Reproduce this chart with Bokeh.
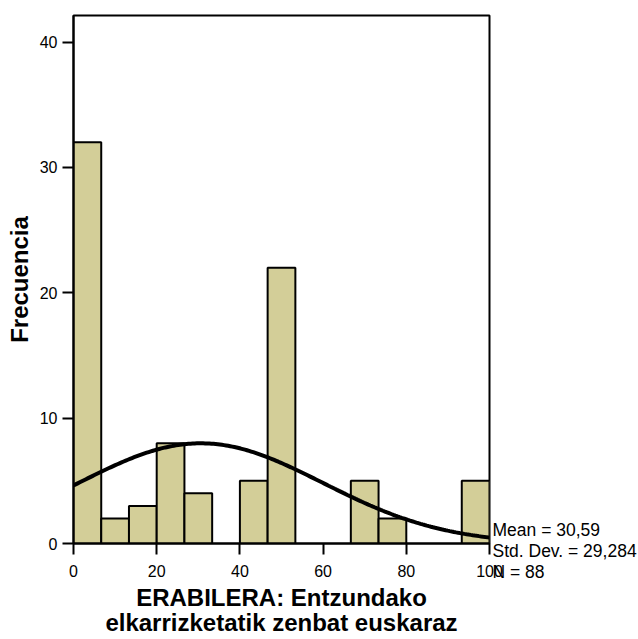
import numpy as np
from bokeh.plotting import figure
from bokeh.models import Label, FixedTicker, Range1d
from bokeh.embed import file_html
from bokeh.resources import INLINE

bin_width = 100 / 15
bin_lefts = [i * bin_width for i in range(15)]
counts = [32, 2, 3, 8, 4, 0, 5, 22, 0, 0, 5, 2, 0, 0, 5]
mean_val = 30.59
std_val = 29.284
n_val = 88
x_ticks = [0, 20, 40, 60, 80, 100]
y_ticks = [0, 10, 20, 30, 40]
stats = ["Mean = 30,59", "Std. Dev. = 29,284", "N = 88"]

p = figure(width=638, height=639, output_backend="svg", toolbar_location=None,
           x_range=Range1d(0, 100), y_range=Range1d(0, 42.12),
           min_border_left=73, min_border_right=149, min_border_top=15, min_border_bottom=93)
p.grid.visible = False
p.outline_line_color = "black"
p.outline_line_width = 2

lefts = [b for b, c in zip(bin_lefts, counts) if c > 0]
rights = [b + bin_width for b, c in zip(bin_lefts, counts) if c > 0]
tops = [c for c in counts if c > 0]
p.quad(left=lefts, right=rights, bottom=0, top=tops, fill_color="#d3ce98",
       line_color="black", line_width=2)

xs = np.linspace(0, 100, 200)
ys = n_val * bin_width / (std_val * np.sqrt(2 * np.pi)) * np.exp(-0.5 * ((xs - mean_val) / std_val) ** 2)
p.line(xs, ys, line_color="black", line_width=4)

for ax in (p.xaxis[0], p.yaxis[0]):
    ax.axis_line_width = 2
    ax.major_tick_line_width = 2
    ax.minor_tick_line_color = None
    ax.major_tick_in = 0
    ax.major_tick_out = 11
    ax.major_label_text_font = "Liberation Sans"
    ax.major_label_text_font_size = "16px"
    ax.major_label_text_color = "black"
    ax.axis_label_text_font = "Liberation Sans"
    ax.axis_label_text_font_style = "bold"
    ax.axis_label_text_font_size = "24px"
    ax.axis_label_text_color = "black"

p.xaxis.axis_label_text_line_height = 0.95
p.xaxis.ticker = FixedTicker(ticks=x_ticks)
p.yaxis.ticker = FixedTicker(ticks=y_ticks)
p.xaxis.major_label_standoff = 10
p.yaxis.major_label_standoff = 5
p.xaxis.axis_label = "ERABILERA: Entzundako\nelkarrizketatik zenbat euskaraz"
p.yaxis.axis_label = "Frecuencia"
p.xaxis.axis_label_standoff = 4
p.yaxis.axis_label_standoff = 4

p.add_layout(Label(x=100, y=0, x_offset=3, y_offset=-7, text="\n".join(stats),
                   text_font="Liberation Sans", text_font_size="17.5px",
                   text_line_height=1.05, text_color="black", text_baseline="middle"), "right")

open("out.html", "w").write(file_html(p, INLINE))
